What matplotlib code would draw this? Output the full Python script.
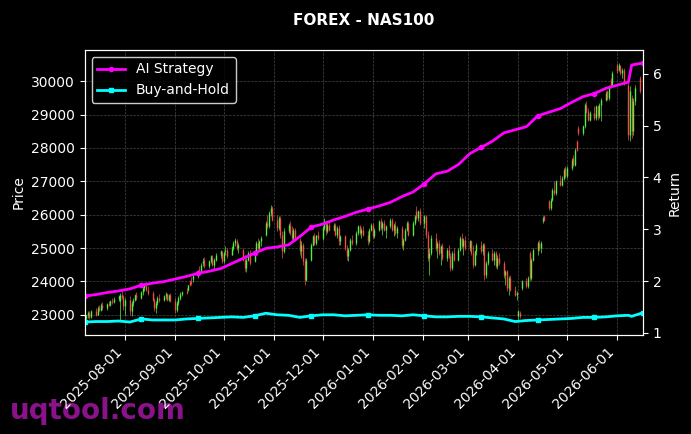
import matplotlib
matplotlib.use("Agg")
import matplotlib.pyplot as plt
import matplotlib.dates as mdates
import pandas as pd

# daily candles (business days 2025-07-07 .. 2026-06-15), one row per week
opens = [
    22950, 22900, 22980, 23050, 22920, 23100, 23000, 23200, 23150, 23300,
    23200, 23320, 23280, 23420, 23380, 23480, 23420, 23600, 23520, 23250,
    23450, 23100, 23350, 23450, 23580, 23500, 23680, 23800, 23900, 23750,
    23650, 23450, 23200, 23350, 23500, 23450, 23550, 23620, 23450, 23580,
    23420, 23150, 23350, 23500, 23620, 23700, 23750, 23980, 24000, 24080,
    24150, 24350, 24300, 24550, 24650, 24450, 24600, 24700, 24500, 24650,
    24800, 24850, 24600, 24900, 24950, 24800, 25000, 25150, 25200, 25000,
    24950, 24650, 24400, 24650, 24850, 24600, 24900, 25150, 25000, 25200,
    25400, 25750, 25650, 26050, 26200, 25850, 25600, 25900, 25400, 24900,
    25500, 25700, 25450, 25300, 25550, 25250, 24900, 25100, 24600, 24050,
    24650, 25100, 25350, 25150, 25380, 25300, 25600, 25800, 25500, 25700,
    25550, 25700, 25400, 25600, 25200, 25350, 25000, 24750, 24950, 25250,
    25150, 25450, 25650, 25450, 25550, 25400, 25200, 25550, 25700, 25350,
    25550, 25800, 25600, 25750, 25550, 25650, 25850, 25550, 25700, 25450,
    25600, 25100, 25250, 25550, 25750, 25400, 25750, 26100, 25900, 26100,
    25750, 25950, 25400, 24700, 24850, 25300, 25000, 25150, 24850, 25050,
    24700, 24950, 24750, 24400, 24850, 24650, 24950, 25300, 25050, 25250,
    25000, 25200, 24850, 24500, 24900, 25100, 24900, 25100, 24200, 24550,
    24850, 24650, 24850, 24450, 24700, 24550, 24200, 24300, 23800, 24100,
    23750, 23600, 22950, 23050, 23800, 24000, 23850, 24850, 24100, 24650,
    24950, 25150, 25000, 25800, 25950, 26400, 26200, 26450, 26750, 26650,
    27000, 26900, 27100, 27400, 27150, 27400, 27700, 27500, 28200, 28600,
    28450, 28650, 29300, 29100, 28850, 29050, 28900, 29250, 28950, 29300,
    29450, 29700, 29500, 30050, 29900, 30500, 30350, 30450, 30250, 30350,
    29900, 28400, 29500, 28500, 29400, 30100,
]
highs = [
    23050, 23000, 23100, 23120, 23150, 23200, 23250, 23300, 23350, 23380,
    23350, 23420, 23450, 23500, 23520, 23600, 23650, 23720, 23600, 23500,
    23550, 23400, 23500, 23620, 23680, 23700, 23850, 23950, 23980, 23850,
    23700, 23500, 23400, 23550, 23620, 23600, 23680, 23650, 23620, 23650,
    23500, 23400, 23550, 23680, 23700, 23800, 23900, 24050, 24120, 24200,
    24350, 24450, 24550, 24700, 24720, 24650, 24800, 24780, 24700, 24850,
    24950, 24920, 24900, 25050, 25000, 25050, 25200, 25300, 25280, 25150,
    25000, 24800, 24700, 24900, 24950, 24950, 25200, 25300, 25250, 25350,
    25800, 26000, 26100, 26300, 26250, 26000, 25950, 25950, 25500, 25600,
    25750, 25800, 25650, 25600, 25600, 25300, 25200, 25150, 24700, 24700,
    25150, 25400, 25450, 25400, 25500, 25650, 25900, 25850, 25750, 25800,
    25750, 25750, 25650, 25700, 25400, 25400, 25100, 25000, 25300, 25400,
    25500, 25700, 25700, 25600, 25650, 25500, 25600, 25750, 25750, 25600,
    25850, 25900, 25800, 25850, 25700, 25900, 25900, 25750, 25800, 25650,
    25650, 25300, 25600, 25800, 25800, 25800, 26000, 26250, 26150, 26200,
    26000, 26000, 25500, 25000, 25400, 25450, 25200, 25250, 25100, 25150,
    25000, 25100, 24850, 24900, 25000, 25000, 25350, 25450, 25300, 25350,
    25250, 25250, 25100, 24950, 25150, 25200, 25150, 25150, 24600, 24900,
    24980, 24900, 24900, 24800, 24850, 24600, 24350, 24350, 24150, 24200,
    23850, 23700, 23150, 23120, 24050, 24100, 24150, 24900, 24700, 25000,
    25200, 25250, 25200, 25950, 26000, 26450, 26500, 26800, 27000, 27050,
    27200, 27150, 27400, 27450, 27450, 27700, 27800, 28000, 28250, 28650,
    28700, 29350, 29400, 29200, 29100, 29250, 29300, 29300, 29350, 29500,
    29700, 29750, 29900, 30100, 30300, 30550, 30550, 30500, 30400, 30400,
    29950, 29850, 29600, 29500, 29900, 30150,
]
lows = [
    22800, 22780, 22900, 22880, 22900, 22950, 22980, 23100, 23120, 23150,
    23150, 23250, 23260, 23330, 23350, 23420, 22850, 23480, 23150, 23000,
    23000, 22950, 23250, 23400, 23450, 23480, 23600, 23700, 23700, 23600,
    23400, 23100, 23050, 23300, 23380, 23400, 23480, 23400, 23420, 23380,
    23050, 23080, 23300, 23450, 23550, 23620, 23700, 23850, 23900, 23980,
    24100, 24200, 24280, 24450, 24400, 24400, 24550, 24450, 24380, 24600,
    24700, 24550, 24550, 24800, 24700, 24780, 24950, 25050, 24950, 24850,
    24600, 24300, 24280, 24600, 24500, 24580, 24850, 24950, 24900, 25050,
    25350, 25600, 25600, 25950, 25800, 25500, 25550, 25300, 24700, 24850,
    25450, 25400, 25200, 25250, 25200, 24800, 24700, 24500, 23880, 24000,
    24600, 25050, 25100, 25100, 25250, 25250, 25550, 25400, 25450, 25500,
    25500, 25350, 25300, 25100, 25100, 24950, 24650, 24600, 24900, 25100,
    25100, 25400, 25400, 25300, 25350, 25100, 25150, 25500, 25300, 25300,
    25500, 25550, 25400, 25500, 25300, 25600, 25500, 25350, 25400, 25300,
    25000, 24950, 25200, 25500, 25350, 25350, 25700, 25850, 25800, 25700,
    25600, 25300, 24600, 24200, 24800, 24900, 24700, 24800, 24500, 24650,
    24600, 24700, 24300, 24350, 24600, 24600, 24900, 25000, 24800, 24950,
    24900, 24800, 24400, 24450, 24800, 24850, 24800, 24050, 24100, 24500,
    24600, 24500, 24400, 24380, 24500, 24100, 23900, 23700, 23600, 23700,
    23550, 23450, 22880, 22900, 23750, 23800, 23800, 24000, 24050, 24600,
    24800, 24900, 24850, 25750, 25800, 26150, 26150, 26400, 26600, 26600,
    26850, 26850, 27050, 27100, 27100, 27350, 27450, 27450, 27900, 28400,
    28400, 28600, 29050, 28800, 28800, 28850, 28850, 28850, 28900, 28800,
    29400, 29450, 29450, 29800, 29850, 30250, 30300, 30200, 30100, 29900,
    28250, 28200, 28300, 28400, 29300, 29650,
]
closes = [
    22900, 22980, 23050, 22920, 23100, 23000, 23200, 23150, 23300, 23200,
    23320, 23280, 23420, 23380, 23480, 23560, 23600, 23520, 23250, 23450,
    23100, 23350, 23450, 23580, 23500, 23680, 23800, 23900, 23750, 23650,
    23450, 23200, 23350, 23500, 23450, 23550, 23620, 23450, 23580, 23420,
    23150, 23350, 23500, 23620, 23680, 23650, 23880, 23900, 23950, 24150,
    24300, 24250, 24500, 24600, 24450, 24600, 24750, 24500, 24650, 24800,
    24900, 24600, 24850, 24950, 24750, 25000, 25150, 25250, 25000, 25100,
    24650, 24400, 24650, 24850, 24550, 24900, 25150, 25000, 25200, 25300,
    25750, 25650, 26050, 26200, 25850, 25600, 25900, 25400, 24900, 25500,
    25700, 25450, 25300, 25550, 25250, 24900, 25100, 24600, 24050, 24650,
    25100, 25350, 25150, 25380, 25300, 25600, 25800, 25500, 25700, 25550,
    25700, 25400, 25600, 25200, 25350, 25000, 24750, 24950, 25250, 25150,
    25450, 25650, 25450, 25550, 25400, 25200, 25550, 25700, 25350, 25550,
    25800, 25600, 25750, 25550, 25650, 25850, 25550, 25700, 25450, 25600,
    25100, 25250, 25550, 25750, 25400, 25750, 25950, 25900, 26100, 25750,
    25950, 25400, 24700, 24850, 25300, 25000, 25150, 24850, 25050, 24700,
    24950, 24750, 24400, 24850, 24650, 24950, 25300, 25050, 25250, 25000,
    25200, 24850, 24500, 24900, 25100, 24900, 25100, 24200, 24550, 24850,
    24650, 24850, 24450, 24700, 24550, 24200, 24300, 23800, 24100, 23750,
    23600, 23650, 23100, 22950, 24000, 23850, 24100, 24100, 24650, 24950,
    25150, 25000, 25150, 25900, 25850, 26200, 26450, 26750, 26650, 27000,
    26900, 27100, 27350, 27150, 27400, 27650, 27500, 27950, 27950, 28450,
    28650, 29300, 29100, 28850, 29050, 28900, 29250, 28950, 29300, 29450,
    29650, 29500, 29850, 29850, 30250, 30300, 30500, 30250, 30350, 29950,
    28400, 29700, 28500, 29400, 29800, 29700,
]

# weekly return curves
ai_strategy = [
    1.71, 1.74, 1.78, 1.81, 1.85, 1.92, 1.96, 1.99, 2.04, 2.09,
    2.15, 2.19, 2.24, 2.34, 2.44, 2.54, 2.63, 2.66, 2.70, 2.86,
    3.04, 3.10, 3.18, 3.25, 3.33, 3.39, 3.45, 3.52, 3.63, 3.72,
    3.88, 4.07, 4.12, 4.25, 4.46, 4.58, 4.70, 4.86, 4.92, 4.98,
    5.19, 5.26, 5.33, 5.45, 5.56, 5.62, 5.72, 5.78, 5.84, 6.17, 6.21,
]
buy_hold = [
    1.21, 1.22, 1.22, 1.23, 1.21, 1.27, 1.25, 1.25, 1.25, 1.27,
    1.28, 1.29, 1.30, 1.31, 1.30, 1.33, 1.38, 1.35, 1.34, 1.30,
    1.33, 1.35, 1.35, 1.33, 1.34, 1.35, 1.34, 1.34, 1.33, 1.35,
    1.33, 1.31, 1.31, 1.32, 1.32, 1.31, 1.29, 1.27, 1.22, 1.24,
    1.25, 1.26, 1.27, 1.28, 1.30, 1.30, 1.31, 1.33, 1.34, 1.32, 1.39,
]

days = pd.bdate_range("2025-07-07", "2026-06-15")
line_dates = list(pd.date_range("2025-07-07", "2026-06-08", freq="7D")) + \
    [pd.Timestamp("2026-06-10"), pd.Timestamp("2026-06-17")]

up_col = "#55ee44"
down_col = "#ee5046"

fig = plt.figure(figsize=(6.91, 4.34), dpi=100, facecolor="black")
ax = fig.add_axes([0.1224, 0.2281, 0.8081, 0.6567])
ax.set_facecolor("black")

cols = [up_col if c >= o else down_col for o, c in zip(opens, closes)]
ax.vlines(days, lows, highs, colors=cols, linewidth=0.5)
ax.vlines(days, opens, closes, colors=cols, linewidth=1.0)

ax.grid(True, color="#777777", linestyle="--", linewidth=0.5, alpha=0.6)
ax.set_ylabel("Price", color="white", fontsize=10)

ax2 = ax.twinx()
ax2.plot(line_dates, ai_strategy, color="#ff00ff", lw=2, marker="o",
         ms=3, markevery=5, label="AI Strategy")
ax2.plot(line_dates, buy_hold, color="#00ffff", lw=2, marker="s",
         ms=3, markevery=5, label="Buy-and-Hold")
ax2.set_ylabel("Return", color="white", fontsize=10)
ax2.set_xlim(line_dates[0], line_dates[-1])

for a in (ax, ax2):
    a.tick_params(colors="white", labelsize=10)
    for s in a.spines.values():
        s.set_color("white")

ax.xaxis.set_major_locator(mdates.MonthLocator())
ax.xaxis.set_major_formatter(mdates.DateFormatter("%Y-%m-%d"))
plt.setp(ax.get_xticklabels(), rotation=45, ha="right")

leg = ax2.legend(loc="upper left", facecolor="black", edgecolor="white",
                 labelcolor="white", fontsize=10)

ax.set_title("FOREX - NAS100", color="white", fontsize=11,
             fontweight="bold", pad=18)

fig.text(10 / 691, 1 - 419 / 434, "uqtool.com", color="#8a128a",
         fontsize=20, fontweight="bold", va="baseline", zorder=-1)

fig.savefig("out.png", dpi=100, facecolor="black")
